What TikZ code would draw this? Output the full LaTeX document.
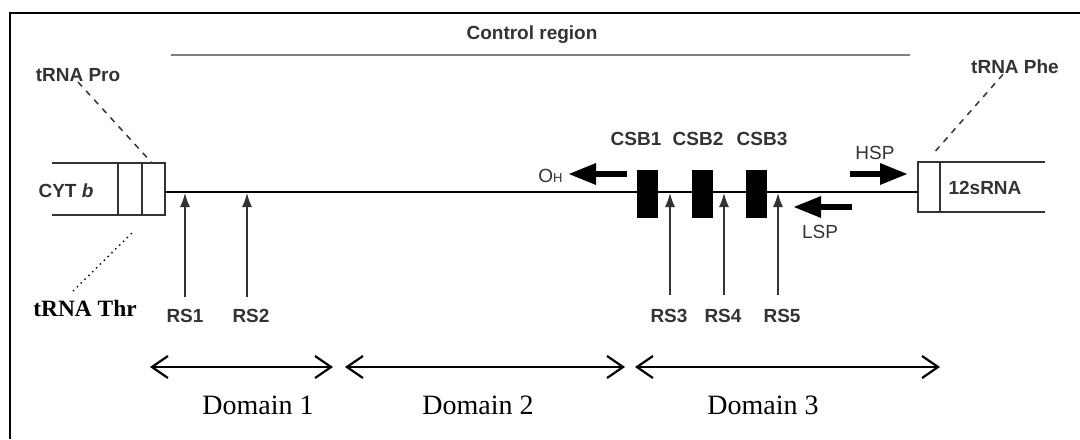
\documentclass[tikz,border=0pt]{standalone}
\usepackage{fontspec}
\setmainfont{Liberation Serif}
\setsansfont{Liberation Sans}
\usetikzlibrary{arrows.meta}
\definecolor{inkgray}{HTML}{333333}
\tikzset{
  lbl/.style={font=\sffamily\bfseries\fontsize{9.5}{11}\selectfont, text=inkgray, inner sep=0pt},
  thinlbl/.style={font=\sffamily\fontsize{9.5}{11}\selectfont, text=inkgray, inner sep=0pt},
  domlbl/.style={font=\fontsize{14}{16}\selectfont, inner sep=0pt},
  gene/.style={draw=inkgray, line width=0.75pt},
  csbbox/.style={fill=black, minimum width=10.5pt, minimum height=24pt, inner sep=0pt},
  rsarrow/.style={draw=inkgray, line width=0.7pt, -{Latex[length=7pt,width=5pt]}},
  fatarrow/.style={line width=3pt, -{Triangle[length=14pt,width=10pt]}},
  domarrow/.style={line width=1.1pt, {Straight Barb[length=8pt,width=11pt]}-{Straight Barb[length=8pt,width=11pt]}}
}
\begin{document}
\begin{tikzpicture}[x=0.5pt,y=-0.5pt]
  \useasboundingbox (0,0) rectangle (1080,439);

  % frame
  \coordinate (fTR) at (1080,13);
  \coordinate (fTL) at (10,13);
  \coordinate (fBL) at (10,439);
  \draw[line width=1pt] (fTR) -- (fTL) -- (fBL);

  % control region
  \node[lbl] (ctrl) at (532,35) {Control region};
  \coordinate (ctrlL) at (171,55);
  \coordinate (ctrlR) at (910,55);
  \draw[gray, line width=1.2pt] (ctrlL) -- (ctrlR);

  % CYT b block with tRNA Thr and tRNA Pro
  \draw[gene] (52,163) -- (165,163) -- (165,215) -- (52,215);
  \draw[gene] (118,163) -- (118,215);
  \draw[gene] (142,163) -- (142,215);
  \node[lbl] (cytb) at (66,191) {CYT \textit{b}};
  \coordinate (cytR) at (165,192);
  \coordinate (proTop) at (152,163);
  \coordinate (thrTop) at (132,233);
  \node[lbl] (tpro) at (78,75) {tRNA Pro};
  \draw[gene, dashed] (tpro.south) -- (proTop);
  \node[font=\bfseries\fontsize{11.7}{13}\selectfont, inner sep=0pt] (tthr) at (85,308) {tRNA Thr};
  \coordinate (thrTip) at (73,291);
  \draw[line width=0.7pt, dotted] (thrTip) -- (thrTop);

  % 12sRNA block with tRNA Phe
  \draw[gene] (1045,162) -- (918,162) -- (918,212) -- (1045,212);
  \draw[gene] (940,162) -- (940,212);
  \node[lbl] (srna) at (985,188) {12sRNA};
  \coordinate (srnaL) at (918,192);
  \coordinate (pheTop) at (932,155);
  \node[lbl] (tphe) at (1015,67) {tRNA Phe};
  \draw[gene, dashed] ([xshift=-6pt]tphe.south) -- (pheTop);

  % main strand
  \draw[line width=1.3pt] (cytR) -- (srnaL);

  % conserved sequence blocks
  \node[csbbox] (csb1) at (647.5,194) {};
  \node[csbbox] (csb2) at (702.5,194) {};
  \node[csbbox] (csb3) at (756.5,194) {};
  \node[lbl] (csb1t) at (636,139) {CSB1};
  \node[lbl] (csb2t) at (698,139) {CSB2};
  \node[lbl] (csb3t) at (762,139) {CSB3};

  % promoters and origin
  \coordinate (ohS) at (627,174);
  \coordinate (ohE) at (568,174);
  \draw[fatarrow] (ohS) -- (ohE);
  \node[thinlbl, anchor=east] (oh) at (563,176) {O{\fontsize{6.5}{7}\selectfont H}};
  \coordinate (hspS) at (850,174);
  \coordinate (hspE) at (908,174);
  \draw[fatarrow] (hspS) -- (hspE);
  \node[thinlbl] (hsp) at (875,153) {HSP};
  \coordinate (lspS) at (852,207);
  \coordinate (lspE) at (793,207);
  \draw[fatarrow] (lspS) -- (lspE);
  \node[thinlbl] (lsp) at (820,232) {LSP};

  % restriction sites
  \node[lbl] (rs1) at (185,316) {RS1};
  \node[lbl] (rs2) at (251,316) {RS2};
  \node[lbl] (rs3) at (669,316) {RS3};
  \node[lbl] (rs4) at (723,316) {RS4};
  \node[lbl] (rs5) at (782,316) {RS5};
  \coordinate (rs1b) at (185,297); \coordinate (rs1t) at (185,193);
  \coordinate (rs2b) at (247,297); \coordinate (rs2t) at (247,193);
  \coordinate (rs3b) at (670,295); \coordinate (rs3t) at (670,193);
  \coordinate (rs4b) at (724,295); \coordinate (rs4t) at (724,193);
  \coordinate (rs5b) at (778,295); \coordinate (rs5t) at (778,193);
  \draw[rsarrow] (rs1b) -- (rs1t);
  \draw[rsarrow] (rs2b) -- (rs2t);
  \draw[rsarrow] (rs3b) -- (rs3t);
  \draw[rsarrow] (rs4b) -- (rs4t);
  \draw[rsarrow] (rs5b) -- (rs5t);

  % domains
  \coordinate (d1L) at (150,367); \coordinate (d1R) at (333,367);
  \coordinate (d2L) at (345,367); \coordinate (d2R) at (625,367);
  \coordinate (d3L) at (635,367); \coordinate (d3R) at (940,367);
  \draw[domarrow] (d1L) -- (d1R);
  \draw[domarrow] (d2L) -- (d2R);
  \draw[domarrow] (d3L) -- (d3R);
  \node[domlbl] (dom1) at (258,405) {Domain 1};
  \node[domlbl] (dom2) at (478,405) {Domain 2};
  \node[domlbl] (dom3) at (763,405) {Domain 3};
\end{tikzpicture}
\end{document}
